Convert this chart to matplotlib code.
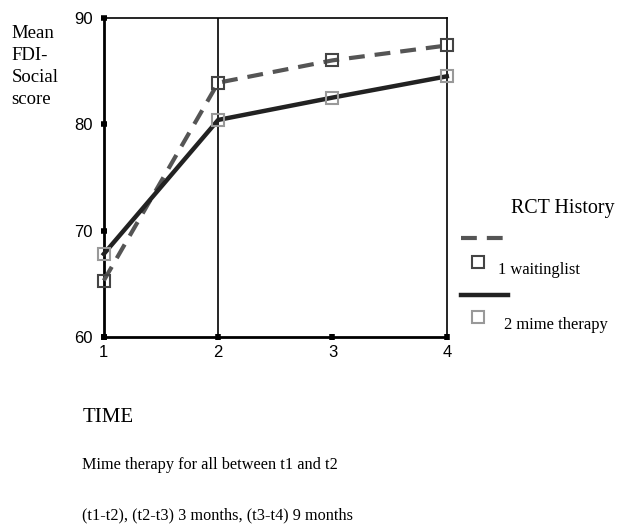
"""Mean FDI-Social score over time, by RCT history group."""
import matplotlib
matplotlib.use("Agg")
import matplotlib.pyplot as plt
from matplotlib.lines import Line2D

TIMES = [1, 2, 3, 4]
WAITINGLIST = [65.3, 83.9, 86.0, 87.4]
MIME_THERAPY = [67.8, 80.4, 82.5, 84.5]
Y_TICKS = [60, 70, 80, 90]
GROUP_LABELS = ["1 waitinglist", "2 mime therapy"]

SERIF = "Liberation Serif"
SANS = "Liberation Sans"
DASHES = (0, (3.8, 2.4))

fig = plt.figure(figsize=(6.18, 5.24), dpi=100)
ax = fig.add_axes([0.168, 0.357, 0.555, 0.609])

ax.plot(
    TIMES, WAITINGLIST,
    color="#555555", lw=3, linestyle=DASHES,
    marker="s", markersize=8, markerfacecolor="none",
    markeredgecolor="#444444", markeredgewidth=1.5, zorder=3, clip_on=False,
)
ax.plot(
    TIMES, MIME_THERAPY,
    color="#222222", lw=3.2,
    marker="s", markersize=8, markerfacecolor="none",
    markeredgecolor="#999999", markeredgewidth=1.5, zorder=3, clip_on=False,
)
ax.axvline(2, color="black", lw=1.2, zorder=1)

ax.set_xlim(1, 4)
ax.set_ylim(60, 90)
ax.set_xticks(TIMES)
ax.set_yticks(Y_TICKS)
ax.tick_params(direction="inout", length=4, width=4, labelsize=12)
ax.tick_params(axis="y", pad=6)
ax.tick_params(axis="x", pad=4)
for lbl in ax.get_xticklabels() + ax.get_yticklabels():
    lbl.set_fontfamily(SANS)
for side in ["left", "bottom"]:
    ax.spines[side].set_linewidth(2)
for side in ["top", "right"]:
    ax.spines[side].set_linewidth(1.2)

fig.text(0.019, 0.953, "Mean\nFDI-\nSocial\nscore", family=SERIF,
         fontsize=13.5, va="top", ha="left", linespacing=1.4)

# legend drawn by hand to mimic the original layout
fig.text(0.911, 0.603, "RCT History", family=SERIF, fontsize=14.4,
         ha="center", va="center")
fig.add_artist(Line2D([0.746, 0.822], [0.545, 0.545], color="#555555",
                      lw=3, linestyle=DASHES))
fig.add_artist(Line2D([0.774], [0.5], marker="s", markersize=8,
                      markerfacecolor="none", markeredgecolor="#444444",
                      markeredgewidth=1.5))
fig.text(0.806, 0.485, GROUP_LABELS[0], family=SERIF, fontsize=11.9,
         ha="left", va="center")
fig.add_artist(Line2D([0.746, 0.822], [0.437, 0.437], color="#222222",
                      lw=3.2))
fig.add_artist(Line2D([0.774], [0.395], marker="s", markersize=8,
                      markerfacecolor="none", markeredgecolor="#999999",
                      markeredgewidth=1.5))
fig.text(0.816, 0.38, GROUP_LABELS[1], family=SERIF, fontsize=11.9,
         ha="left", va="center")

fig.text(0.133, 0.204, "TIME", family=SERIF, fontsize=15,
         ha="left", va="center")
fig.text(0.133, 0.113, "Mime therapy for all between t1 and t2",
         family=SERIF, fontsize=11.7, ha="left", va="center")
fig.text(0.133, 0.017, "(t1-t2), (t2-t3) 3 months, (t3-t4) 9 months",
         family=SERIF, fontsize=11.7, ha="left", va="center")

fig.savefig("out.png", dpi=100)
